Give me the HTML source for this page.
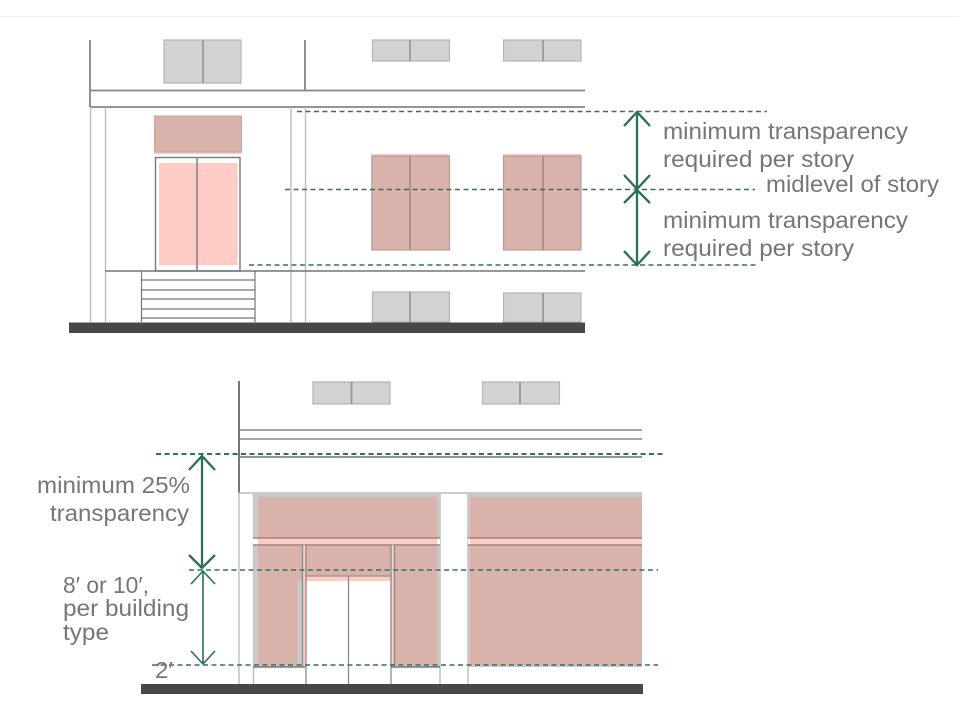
<!DOCTYPE html>
<html><head><meta charset="utf-8"><style>
html,body{margin:0;padding:0;background:#fff;width:958px;height:707px;overflow:hidden}
svg{display:block}
text{font-family:"Liberation Sans",sans-serif;font-size:23px;fill:#767676}
.lt{stroke:#bdbdbd;stroke-width:1.4;fill:none}
.md{stroke:#858585;stroke-width:1.8;fill:none}
.th{stroke:#777;stroke-width:1.300;fill:none}
.da{stroke:#36705f;stroke-width:1.500;stroke-dasharray:5 3.500;fill:none}
.ar{stroke:#2c6e5e;stroke-width:2.300;fill:none}
.win{fill:#d2d2d2;stroke:#b4b4b4;stroke-width:1.200}
.dv{stroke:#999;stroke-width:1.800}
.br{fill:#d9b3ab}
.pk{fill:#ffcbc4}
</style></head><body>
<svg width="958" height="707" viewBox="0 0 958 707">
<rect width="958" height="707" fill="#fff"/>
<rect x="0" y="16" width="958" height="1" fill="#eeeeee"/>

<!-- top diagram -->
<rect class="win" x="164" y="40" width="77" height="43"/><line class="dv" x1="203" y1="40" x2="203" y2="83"/>
<rect class="win" x="372.500" y="40" width="77" height="21"/><line class="dv" x1="410" y1="40" x2="410" y2="61"/>
<rect class="win" x="503.500" y="40" width="77.500" height="21"/><line class="dv" x1="543" y1="40" x2="543" y2="61"/>
<rect class="win" x="372.500" y="292" width="77" height="30"/><line class="dv" x1="410" y1="292" x2="410" y2="322"/>
<rect class="win" x="503.500" y="293" width="77.500" height="29"/><line class="dv" x1="543" y1="293" x2="543" y2="322"/>

<path class="md" d="M90 40V107M305 40V90M90 90.500H585M90 107H585"/>
<path class="lt" d="M90.500 107V322M105.500 107V322M291 107V322M305.500 107V322"/>

<rect class="pk" x="154" y="116" width="88" height="38"/>
<rect class="br" x="154.500" y="116" width="87" height="36" stroke="#c9a39b" stroke-width="1"/>
<rect x="155.500" y="157.500" width="84.500" height="113.500" fill="#fff" stroke="#777" stroke-width="1.400"/>
<rect class="pk" x="159" y="163" width="78.500" height="102"/>
<line x1="197" y1="157" x2="197" y2="271" stroke="#8f8f8f" stroke-width="1.800"/>

<path class="th" d="M105 271H585" style="stroke-width:1.500"/>
<path d="M141.500 271V322M255 271V322M141.500 280H255M141.500 290H255M141.500 299H255M141.500 309H255M141.500 318H255" stroke="#777" stroke-width="1.200" fill="none"/>
<rect x="69" y="322.500" width="516" height="10.500" fill="#484848"/>

<rect class="pk" x="371" y="154" width="78" height="96"/>
<rect class="br" x="372" y="156" width="77.500" height="94" stroke="#b0a09b" stroke-width="1.200"/>
<line x1="410" y1="156" x2="410" y2="250" stroke="#9c8581" stroke-width="1.500"/>
<rect class="pk" x="503" y="154" width="78" height="96"/>
<rect class="br" x="503.500" y="156" width="77.500" height="94" stroke="#b0a09b" stroke-width="1.200"/>
<line x1="543" y1="156" x2="543" y2="250" stroke="#9c8581" stroke-width="1.500"/>

<line class="da" x1="297" y1="111.500" x2="767" y2="111.500"/>
<line class="da" x1="285" y1="189.500" x2="755" y2="189.500"/>
<line class="da" x1="249" y1="265" x2="757" y2="265"/>

<path class="ar" d="M637 112V265M624 126L637 112L650 126M624 175L637 189L650 175M624 203L637 190L650 203M624 251L637 265L650 251"/>

<text x="663" y="139" textLength="245" lengthAdjust="spacingAndGlyphs">minimum transparency</text>
<text x="663" y="167" textLength="191" lengthAdjust="spacingAndGlyphs">required per story</text>
<text x="766" y="192" textLength="173" lengthAdjust="spacingAndGlyphs">midlevel of story</text>
<text x="663" y="228" textLength="245" lengthAdjust="spacingAndGlyphs">minimum transparency</text>
<text x="663" y="256" textLength="191" lengthAdjust="spacingAndGlyphs">required per story</text>

<!-- bottom diagram -->
<rect class="win" x="313" y="382" width="77" height="22"/><line class="dv" x1="351.500" y1="382" x2="351.500" y2="404"/>
<rect class="win" x="482.500" y="382" width="77" height="22"/><line class="dv" x1="520" y1="382" x2="520" y2="404"/>

<path d="M239 381V493" stroke="#666" stroke-width="1.800" fill="none"/>
<path class="md" d="M239 430H642M239 439H642" style="stroke-width:1.500"/>
<path class="md" d="M239 457H642"/>
<path class="lt" d="M239 493H642M239 493V684M253.500 493V684M440 493V684M468 493V684"/>

<rect x="253" y="493" width="187" height="174" fill="#c9c9c9"/>
<rect class="br" x="258" y="497" width="179" height="168"/>
<rect x="253" y="538" width="187" height="7" fill="#fff"/>
<rect class="pk" x="258" y="538" width="179" height="7"/>
<path d="M253 538H440M253 545H440" stroke="#9c8581" stroke-width="1.500" fill="none"/>

<rect x="297" y="581" width="8" height="86" fill="#c9c9c9"/>
<rect x="303" y="545" width="3" height="122" class="pk"/>
<rect x="391" y="545" width="3.500" height="122" class="pk"/>
<rect x="306" y="581" width="85" height="103" fill="#fff"/>
<rect class="pk" x="306" y="576" width="85" height="5"/>
<path d="M306 576H391" stroke="#a58d88" stroke-width="1.200" fill="none"/>
<path d="M302.500 545V667M306 545V684M391 545V684M394.500 545V667M348.500 576V684" stroke="#8a8a8a" stroke-width="1.300" fill="none"/>
<path d="M253 667H305M391 667H440" stroke="#777" stroke-width="1.500" fill="none"/>

<rect x="468" y="493" width="174" height="174" fill="#c9c9c9"/>
<rect class="br" x="470" y="497" width="172" height="168"/>
<rect x="468" y="538" width="2" height="7" fill="#fff"/>
<rect x="470" y="538" width="172" height="7" class="pk"/>
<path d="M468 538H642M468 545H642" stroke="#9c8581" stroke-width="1.500" fill="none"/>

<rect x="141" y="684" width="502" height="10" fill="#484848"/>

<line class="da" x1="156" y1="454" x2="663" y2="454" style="stroke-width:2"/>
<line class="da" x1="189" y1="570" x2="658" y2="570"/>
<line class="da" x1="152" y1="665" x2="658" y2="665"/>

<path class="ar" d="M202 456V568M189 470L202 456L215 470M189 555L202 568L215 555"/>
<path class="ar" style="stroke-width:1.600" d="M203 571V664M191 584L203 571L215 584M191 651L203 664L215 651"/>

<text x="37" y="493" textLength="153" lengthAdjust="spacingAndGlyphs">minimum 25%</text>
<text x="50" y="521" textLength="139" lengthAdjust="spacingAndGlyphs">transparency</text>
<text x="63" y="593" textLength="86" lengthAdjust="spacingAndGlyphs">8′ or 10′,</text>
<text x="63" y="616" textLength="126" lengthAdjust="spacingAndGlyphs">per building</text>
<text x="63" y="640" textLength="46" lengthAdjust="spacingAndGlyphs">type</text>
<text x="155" y="678" textLength="18" lengthAdjust="spacingAndGlyphs">2′</text>
</svg>
</body></html>
